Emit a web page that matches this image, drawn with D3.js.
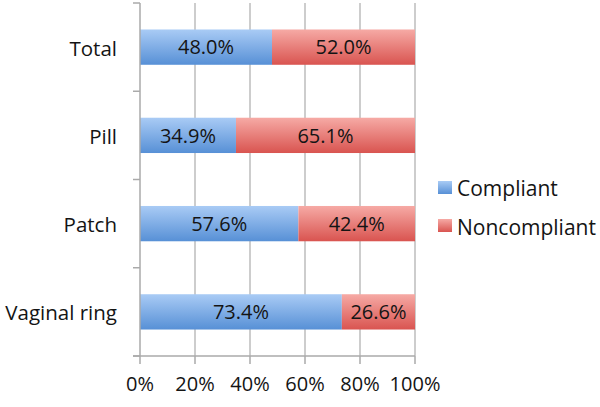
<!DOCTYPE html>
<html><head><meta charset="utf-8">
<script src="https://cdn.jsdelivr.net/npm/d3@7"></script>
<style>body{margin:0;background:#fff}svg{display:block}text{font-family:"Open Sans",sans-serif;fill:#141414}</style>
</head><body><svg id="c" width="600" height="407"></svg>
<script>
const categories = ["Total", "Pill", "Patch", "Vaginal ring"];
const compliant = [48.0, 34.9, 57.6, 73.4];
const noncompliant = [52.0, 65.1, 42.4, 26.6];
const seriesNames = ["Compliant", "Noncompliant"];
const tickValues = [0, 20, 40, 60, 80, 100];

const svg = d3.select("#c");
const m = {l:140, r:185, t:3, b:51};
const W = 600, H = 407;
const x = d3.scaleLinear().domain([0,100]).range([m.l, W-m.r]);
const y = d3.scaleBand().domain(categories).range([m.t, H-m.b]).paddingInner(0.6).paddingOuter(0.3);
const yb = d3.scaleBand().domain(categories).range([m.t, H-m.b]);

const defs = svg.append("defs");
function grad(id, c1, c2){
  const g = defs.append("linearGradient").attr("id", id).attr("x1",0).attr("y1",0).attr("x2",0).attr("y2",1);
  g.append("stop").attr("offset","0%").attr("stop-color",c1);
  g.append("stop").attr("offset","100%").attr("stop-color",c2);
}
grad("gb", "#a9cbf5", "#5790d6");
grad("gr", "#f6aaa5", "#d95450");

// gridlines
svg.append("g").selectAll("line").data(tickValues.slice(1)).join("line")
  .attr("x1", d=>x(d)).attr("x2", d=>x(d)).attr("y1", m.t).attr("y2", H-m.b)
  .attr("stroke", "#bdbdbd").attr("stroke-width", 1.5);

// bars
const rows = categories.map((c,i)=>({c, v:[compliant[i], noncompliant[i]]}));
const fills = ["url(#gb)", "url(#gr)"];
rows.forEach(r=>{
  let acc = 0;
  r.v.forEach((v,k)=>{
    svg.append("rect").attr("x", x(acc)).attr("y", y(r.c)).attr("width", x(acc+v)-x(acc)).attr("height", y.bandwidth())
      .attr("fill", fills[k]);
    svg.append("text").attr("x", x(acc+v/2)).attr("y", y(r.c)+y.bandwidth()/2).attr("dy","0.36em")
      .attr("text-anchor","middle").attr("font-size", 20).text(v.toFixed(1)+"%");
    acc += v;
  });
});

// y axis
const ya = svg.append("g");
ya.append("line").attr("x1", m.l).attr("x2", m.l).attr("y1", m.t).attr("y2", H-m.b).attr("stroke","#aaa").attr("stroke-width",1.5);
const yt = categories.map(c=>yb(c)).concat([H-m.b]);
ya.selectAll(".t").data(yt).join("line").attr("x1", m.l-7).attr("x2", m.l).attr("y1", d=>d).attr("y2", d=>d).attr("stroke","#aaa").attr("stroke-width",1.5);
ya.selectAll("text").data(categories).join("text")
  .attr("x", m.l-23).attr("y", d=>yb(d)+yb.bandwidth()/2+1).attr("dy","0.36em").attr("text-anchor","end")
  .attr("font-size", 20.5).text(d=>d);

// x axis
const xa = svg.append("g");
xa.append("line").attr("x1", m.l-7).attr("x2", x(100)).attr("y1", H-m.b).attr("y2", H-m.b).attr("stroke","#aaa").attr("stroke-width",1.5);
xa.selectAll(".t").data(tickValues).join("line").attr("x1", d=>x(d)).attr("x2", d=>x(d)).attr("y1", H-m.b).attr("y2", H-m.b+8).attr("stroke","#aaa").attr("stroke-width",1.5);
xa.selectAll("text").data(tickValues).join("text").attr("x", d=>x(d)).attr("y", 391).attr("text-anchor","middle")
  .attr("font-size", 20).text(d=>d+"%");

// legend
const lg = svg.append("g");
seriesNames.forEach((n,i)=>{
  lg.append("rect").attr("x", 438).attr("y", 181+i*38).attr("width", 14).attr("height", 13).attr("fill", fills[i]);
  lg.append("text").attr("x", 457).attr("y", 188+i*39).attr("dy","0.36em").attr("font-size", 21).text(n);
});
</script></body></html>
